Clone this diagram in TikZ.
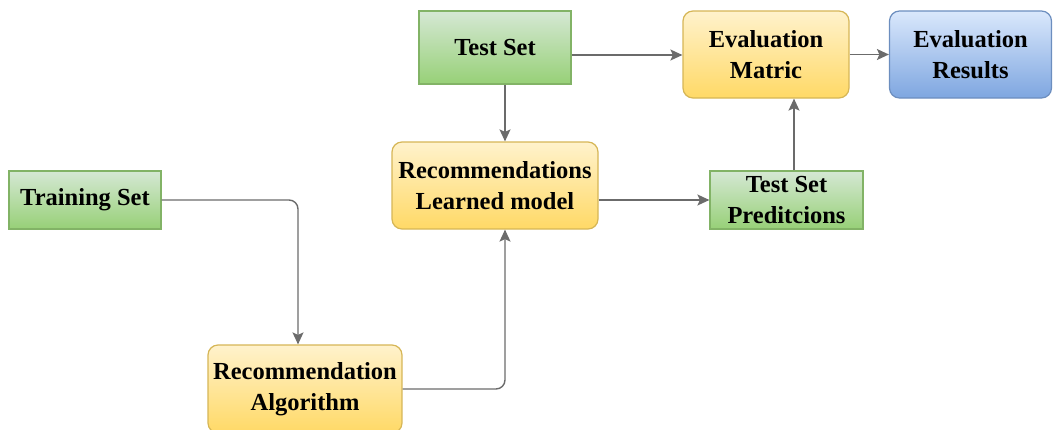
\documentclass[tikz,border=0pt]{standalone}
\usepackage{fontspec}
\setmainfont{Liberation Serif}
\usetikzlibrary{arrows.meta,calc}
\definecolor{gtop}{HTML}{D5E8D4}
\definecolor{gbot}{HTML}{97D077}
\definecolor{gline}{HTML}{82B366}
\definecolor{ytop}{HTML}{FFF2CC}
\definecolor{ybot}{HTML}{FFD966}
\definecolor{yline}{HTML}{D6B656}
\definecolor{btop}{HTML}{DAE8FC}
\definecolor{bbot}{HTML}{7EA6E0}
\definecolor{bline}{HTML}{6C8EBF}
\definecolor{wire}{HTML}{6B6B6B}
\tikzset{
  box/.style={inner sep=0pt, align=center, line width=1.2pt,
    font=\fontsize{24.5}{31}\selectfont\bfseries},
  greenbox/.style={box, draw=gline, top color=gtop, bottom color=gbot},
  yellowbox/.style={box, draw=yline, top color=ytop, bottom color=ybot, rounded corners=10pt},
  bluebox/.style={box, draw=bline, top color=btop, bottom color=bbot, rounded corners=10pt},
  arr/.style={draw=wire, line width=1.4pt, rounded corners=9pt,
    -{Stealth[length=12pt,width=11pt,inset=2.5pt]}}
}
\begin{document}
\begin{tikzpicture}[x=1pt,y=-1pt]
  \useasboundingbox (0,0) rectangle (1053,429);
  % boxes
  \node[greenbox, minimum width=152pt, minimum height=58pt] (train) at (85,200) {Training Set};
  \node[greenbox, minimum width=152pt, minimum height=73pt] (test) at (495,47.5) {Test Set};
  \node[yellowbox, minimum width=206pt, minimum height=87pt] (learned) at (495,185.5) {Recommendations\\Learned model};
  \node[yellowbox, minimum width=166pt, minimum height=87pt] (matric) at (766,54.5) {Evaluation\\Matric};
  \node[bluebox, minimum width=162pt, minimum height=87pt] (results) at (970.5,54.5) {Evaluation\\Results};
  \node[greenbox, minimum width=153pt, minimum height=58pt] (pred) at (786.5,200) {Test Set\\Preditcions};
  \node[yellowbox, minimum width=194pt, minimum height=88pt] (algo) at (305,389) {Recommendation\\Algorithm};
  % connectors
  \coordinate (predtop) at ($(pred.north)+(7.5,0)$);
  \draw[arr] (train.east) -| ($(algo.north)+(-7,0)$);
  \draw[arr] (algo.east) -| ($(learned.south)+(10,0)$);
  \draw[arr] ($(test.south)+(10,0)$) -- ($(learned.north)+(10,0)$);
  \draw[arr] ($(test.east)+(0,7.5)$) -- ($(matric.west)+(0,0.5)$);
  \draw[arr] (learned.east |- pred.west) -- (pred.west);
  \draw[arr] (predtop) -- (predtop |- matric.south);
  \draw[arr] (matric.east) -- (results.west);
\end{tikzpicture}
\end{document}
